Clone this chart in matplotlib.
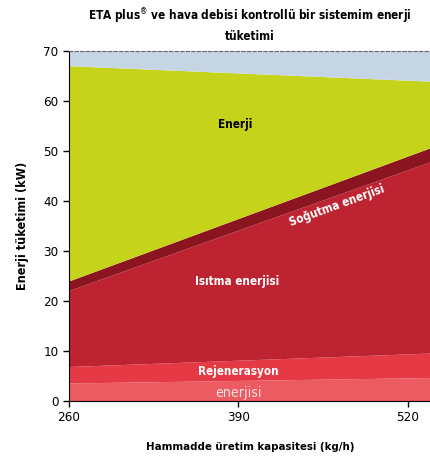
import matplotlib
matplotlib.use('Agg')
import matplotlib.pyplot as plt
from matplotlib import font_manager

# capacity (kg/h) at the two ends of the plot
capacity = [260, 538]

# layer thicknesses (kW), bottom to top
heat_recovery = [3.5, 4.6]
regeneration = [3.3, 4.9]
heating = [15.2, 38.3]
cooling = [1.9, 2.8]
energy = [43.1, 13.3]
remainder = [3.0, 6.1]

layer_colors = ['#ec5a62', '#e53a46', '#be2331', '#8a1420', '#c6d31b', '#c6d5e4']
x_ticks = [260, 390, 520]
y_ticks = [0, 10, 20, 30, 40, 50, 60, 70]

# use a narrow face if one is installed
names = {f.name for f in font_manager.fontManager.ttflist}
condensed = [f for f in font_manager.fontManager.ttflist if f.stretch in ('condensed', 'semi-condensed')]
if 'Liberation Sans Narrow' in names:
    plt.rcParams['font.family'] = ['Liberation Sans Narrow', 'DejaVu Sans']
    scale = 1.0
elif condensed:
    plt.rcParams['font.family'] = [condensed[0].name, 'DejaVu Sans']
    plt.rcParams['font.stretch'] = 'condensed'
    scale = 0.92
else:
    plt.rcParams['font.family'] = ['DejaVu Sans']
    scale = 0.8

fig = plt.figure(figsize=(4.31, 4.57), dpi=100)
ax = fig.add_axes([0.16, 0.1225, 0.84, 0.7655])

ax.stackplot(capacity, heat_recovery, regeneration, heating, cooling, energy, remainder,
             colors=layer_colors, linewidth=0)

ax.set_xlim(capacity[0], capacity[-1])
ax.set_ylim(0, 70)
ax.set_xticks(x_ticks)
ax.set_yticks(y_ticks)
ax.tick_params(direction='out', length=4, width=1, labelsize=10.5 * scale, color='black')

ax.spines['right'].set_visible(False)
ax.spines['top'].set_linestyle((0, (3, 2)))
ax.spines['top'].set_color('#666666')

ax.set_title('ETA plus$^{\u00ae}$ ve hava debisi kontrollü bir sistemim enerji\ntüketimi',
             fontsize=9.2 * scale, fontweight='bold', pad=8, linespacing=1.4)
ax.set_xlabel('Hammadde üretim kapasitesi (kg/h)', fontsize=8.9 * scale, fontweight='bold', labelpad=13)
ax.set_ylabel('Enerji tüketimi (kW)', fontsize=9.8 * scale, fontweight='bold', labelpad=10)

# layer labels
lbl = 9.1 * scale
ax.text(388, 55.3, 'Enerji', ha='center', va='center', fontsize=lbl, fontweight='bold', color='black')
ax.text(466, 39.1, 'Soğutma enerjisi', ha='center', va='center', fontsize=lbl,
        fontweight='bold', color='white', rotation=20)
ax.text(389, 23.9, 'Isıtma enerjisi', ha='center', va='center', fontsize=lbl,
        fontweight='bold', color='white')
ax.text(390, 5.9, 'Rejenerasyon', ha='center', va='center', fontsize=lbl,
        fontweight='bold', color='white')
ax.text(390, 1.6, 'enerjisi', ha='center', va='center', fontsize=11 * scale, color='#fbe3e4')

fig.savefig('out.png', dpi=100)
